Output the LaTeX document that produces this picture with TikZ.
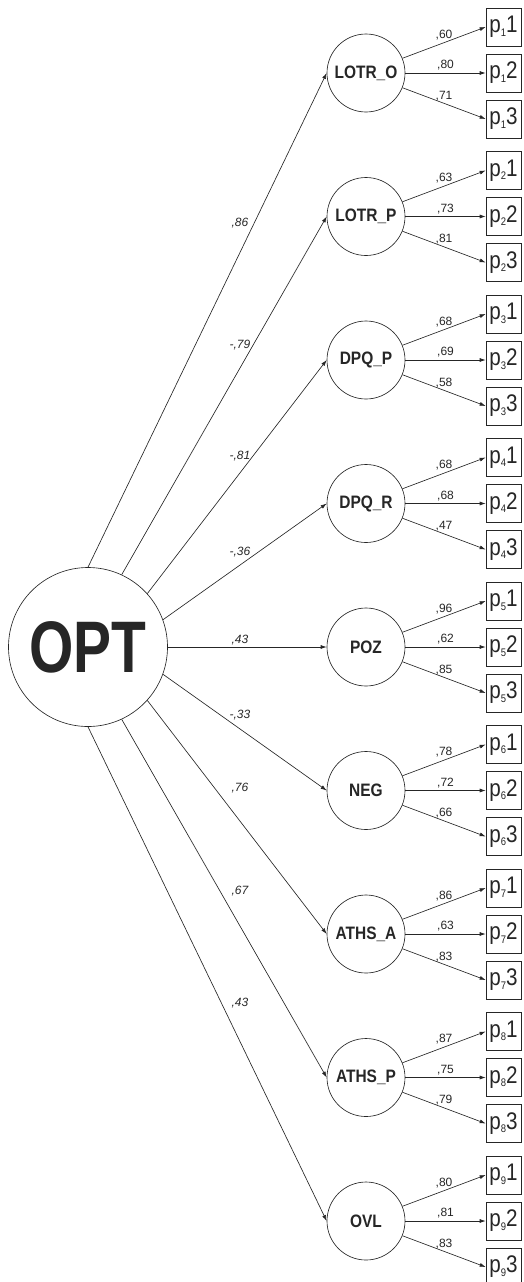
\documentclass[tikz,border=0pt]{standalone}
\usepackage{fontspec}
\setmainfont{Liberation Sans}
\newfontfamily\optfont{Liberation Sans}[FakeStretch=0.78]
\newfontfamily\narrowfont{Liberation Sans}[FakeStretch=0.86]
\usepackage{tikz}
\usetikzlibrary{positioning, arrows.meta}
\definecolor{ink}{HTML}{262626}

\begin{document}
\begin{tikzpicture}[x=1pt,y=-1pt,line width=0.65pt,draw=ink,text=ink,
	latent/.style={draw,circle,minimum size=78pt,inner sep=0pt,font=\narrowfont\bfseries\fontsize{18}{18}\selectfont},
	ind/.style={draw,rectangle,minimum width=35pt,minimum height=38pt,inner sep=0pt,font=\narrowfont\fontsize{24}{24}\selectfont},
	load/.style={inner sep=1pt,font=\fontsize{12}{12}\selectfont},
	arr/.style={-{Latex[length=6pt,width=4pt]}}]
	
	\useasboundingbox (0,0) rectangle (523,1282);
	
	\node[draw,circle,minimum size=159pt,inner sep=0pt,font=\optfont\bfseries\fontsize{73}{73}\selectfont] (OPT) at (88,647) {OPT};
	
	\foreach \nm/\sa/\ly/\g/\wa/\wb/\wc [count=\n] in
	{LOTR\_O/90/223/{,86}/{,60}/{,80}/{,71},
	 LOTR\_P/65/345/{-,79}/{,63}/{,73}/{,81},
	 DPQ\_P/42/456/{-,81}/{,68}/{,69}/{,58},
	 DPQ\_R/20/552/{-,36}/{,68}/{,68}/{,47},
	 POZ/0/640/{,43}/{,96}/{,62}/{,85},
	 NEG/-20/715/{-,33}/{,78}/{,72}/{,66},
	 ATHS\_A/-42/788/{,76}/{,86}/{,63}/{,83},
	 ATHS\_P/-65/891/{,67}/{,87}/{,75}/{,79},
	 OVL/-90/1003/{,43}/{,80}/{,81}/{,83}}
	{
		\node[latent] (L\n) at (366,{73+143.5*(\n-1)}) {\nm};
		\draw[arr] (OPT.\sa) -- (L\n.west);
		\node[load,font=\fontsize{12}{12}\selectfont\itshape] (G\n) at (240,\ly) {\g};
		% indicators of each factor
		\foreach \m/\ia/\v in {1/22/\wa,2/0/\wb,3/-22/\wc}
		{
			\node[ind] (P\n\m) at (503.5,{73+143.5*(\n-1)+46*(\m-2)}) {p\raisebox{-3.5pt}{\fontsize{11}{11}\selectfont\n}\m};
			\draw[arr] (L\n.\ia) -- (P\n\m.west) node[midway,above=1.5pt,load] {\v};
		}
	}
\end{tikzpicture}
\end{document}
